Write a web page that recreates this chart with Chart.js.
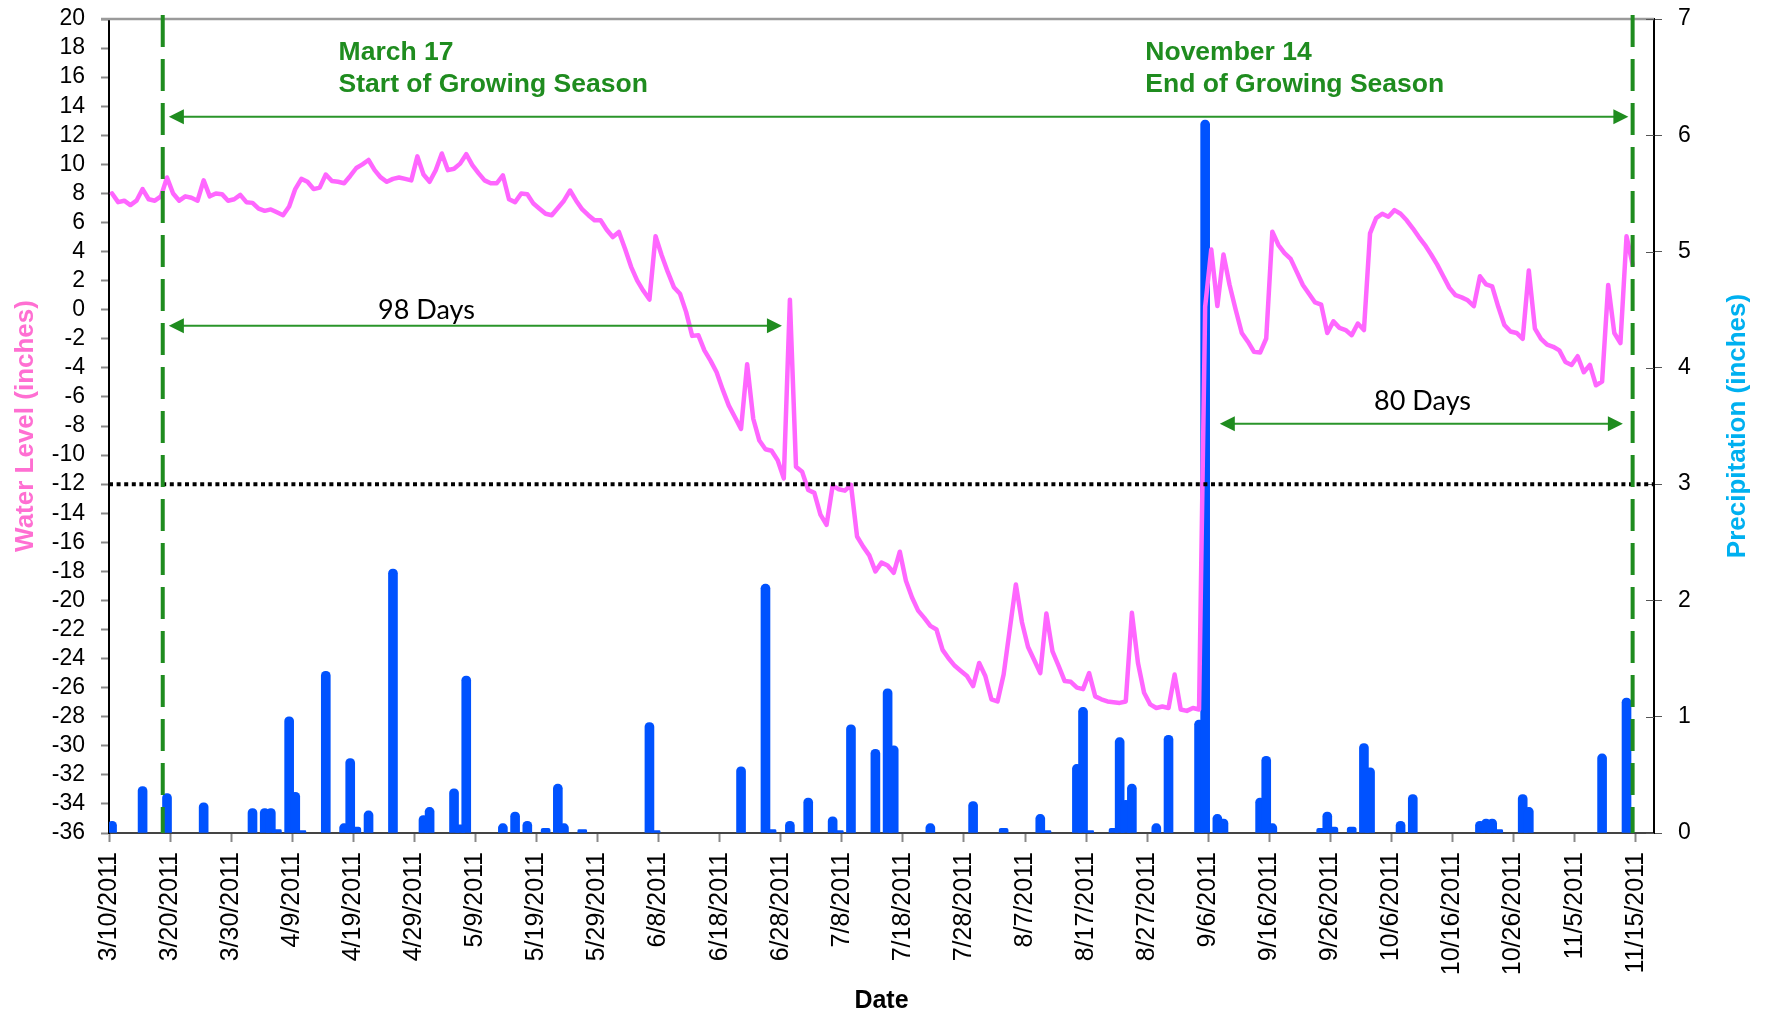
<!DOCTYPE html>
<html>
<head>
<meta charset="utf-8">
<script src="https://cdn.jsdelivr.net/npm/chart.js@4.4.1/dist/chart.umd.min.js"></script>
<style>
html,body{margin:0;padding:0;background:#fff;}
canvas{display:block;}
</style>
</head>
<body>
<canvas id="c" width="1767" height="1016"></canvas>
<script>
// ---------------- DATA ----------------
const startDate = '3/10/2011';
const axisEndDate = '11/18/2011';

const tickLabels = ['3/10/2011','3/20/2011','3/30/2011','4/9/2011','4/19/2011','4/29/2011','5/9/2011',
  '5/19/2011','5/29/2011','6/8/2011','6/18/2011','6/28/2011','7/8/2011','7/18/2011','7/28/2011',
  '8/7/2011','8/17/2011','8/27/2011','9/6/2011','9/16/2011','9/26/2011','10/6/2011','10/16/2011',
  '10/26/2011','11/5/2011','11/15/2011'];

const leftTicks = [-36,-34,-32,-30,-28,-26,-24,-22,-20,-18,-16,-14,-12,-10,-8,-6,-4,-2,0,2,4,6,8,10,12,14,16,18,20];
const rightTicks = [0,1,2,3,4,5,6,7];

// daily water level (inches), starting 3/10/2011
const waterLevel = [
  8.0, 7.4, 7.5, 7.2, 7.5, 8.3, 7.6, 7.5, 7.8, 9.1,
  8.0, 7.5, 7.8, 7.7, 7.5, 8.9, 7.8, 8.0, 7.95, 7.5,
  7.6, 7.9, 7.4, 7.35, 6.95, 6.8, 6.9, 6.7, 6.5, 7.1,
  8.3, 9.0, 8.8, 8.3, 8.4, 9.3, 8.85, 8.8, 8.7, 9.2,
  9.75, 10.0, 10.3, 9.6, 9.1, 8.8, 9.0, 9.1, 9.0, 8.9,
  10.55, 9.3, 8.8, 9.6, 10.75, 9.6, 9.7, 10.05, 10.7, 9.95,
  9.4, 8.9, 8.7, 8.7, 9.25, 7.6, 7.4, 8.0, 7.95, 7.3,
  6.95, 6.6, 6.5, 7.0, 7.5, 8.2, 7.5, 6.9, 6.5, 6.15,
  6.15, 5.5, 5.0, 5.35, 4.2, 2.95, 2.0, 1.3, 0.7, 5.05,
  3.75, 2.6, 1.55, 1.1, -0.15, -1.8, -1.75, -2.8, -3.5, -4.3,
  -5.5, -6.6, -7.4, -8.2, -3.75, -7.5, -9.0, -9.6, -9.7, -10.35,
  -11.6, 0.69, -10.8, -11.15, -12.4, -12.6, -14.1, -14.8, -12.1, -12.35,
  -12.45, -12.05, -15.6, -16.3, -16.9, -18.0, -17.4, -17.6, -18.1, -16.65,
  -18.65, -19.8, -20.7, -21.2, -21.75, -22.0, -23.4, -24.0, -24.5, -24.85,
  -25.2, -25.9, -24.3, -25.2, -26.8, -26.95, -25.1, -22.0, -18.9, -21.5,
  -23.2, -24.1, -25.0, -20.9, -23.5, -24.5, -25.55, -25.6, -26.0, -26.1,
  -25.0, -26.6, -26.8, -26.95, -27.0, -27.05, -26.95, -20.85, -24.3, -26.35,
  -27.15, -27.4, -27.3, -27.4, -25.1, -27.5, -27.6, -27.4, -27.5, 0.2,
  4.15, 0.25, 3.8, 1.7, 0.0, -1.6, -2.2, -2.9, -2.95, -1.98,
  5.37, 4.45, 3.9, 3.5, 2.6, 1.7, 1.1, 0.5, 0.35, -1.6,
  -0.8, -1.25, -1.4, -1.75, -0.95, -1.4, 5.25, 6.3, 6.6, 6.4,
  6.85, 6.6, 6.15, 5.6, 5.0, 4.45, 3.8, 3.1, 2.3, 1.5,
  1.0, 0.85, 0.65, 0.25, 2.3, 1.75, 1.6, 0.2, -1.05, -1.5,
  -1.6, -2.0, 2.7, -1.3, -2.0, -2.4, -2.55, -2.8, -3.6, -3.8,
  -3.2, -4.3, -3.8, -5.2, -4.95, 1.7, -1.6, -2.3, 5.05, 3.1
];

// daily precipitation (inches)
const precipDates = ['3/10/2011','3/15/2011','3/19/2011','3/25/2011','4/2/2011','4/4/2011','4/5/2011','4/6/2011',
  '4/8/2011','4/9/2011','4/10/2011','4/14/2011','4/17/2011','4/18/2011','4/19/2011','4/21/2011','4/25/2011',
  '4/30/2011','5/1/2011','5/5/2011','5/6/2011','5/7/2011','5/13/2011','5/15/2011','5/17/2011','5/20/2011',
  '5/22/2011','5/23/2011','5/26/2011','6/6/2011','6/7/2011','6/21/2011','6/25/2011','6/26/2011','6/29/2011',
  '7/2/2011','7/6/2011','7/7/2011','7/9/2011','7/13/2011','7/15/2011','7/16/2011','7/22/2011','7/29/2011',
  '8/3/2011','8/9/2011','8/10/2011','8/15/2011','8/16/2011','8/17/2011','8/21/2011','8/22/2011','8/23/2011',
  '8/24/2011','8/28/2011','8/30/2011','9/4/2011','9/5/2011','9/7/2011','9/8/2011','9/14/2011','9/15/2011',
  '9/16/2011','9/24/2011','9/25/2011','9/26/2011','9/29/2011','10/1/2011','10/2/2011','10/7/2011','10/9/2011',
  '10/20/2011','10/21/2011','10/22/2011','10/23/2011','10/27/2011','10/28/2011','11/9/2011','11/13/2011'];
const precipValues = [0.10,0.40,0.34,0.26,0.21,0.21,0.21,0.03,
  1.00,0.35,0.02,1.39,0.08,0.64,0.05,0.19,2.27,
  0.15,0.22,0.38,0.07,1.35,0.08,0.18,0.10,0.04,
  0.42,0.08,0.03,0.95,0.02,0.57,2.14,0.03,0.10,
  0.30,0.14,0.02,0.93,0.72,1.24,0.75,0.08,0.27,
  0.04,0.16,0.02,0.59,1.08,0.02,0.04,0.82,0.28,
  0.42,0.08,0.84,0.97,6.13,0.16,0.12,0.30,0.66,
  0.08,0.04,0.18,0.05,0.05,0.77,0.56,0.10,0.33,
  0.10,0.12,0.12,0.03,0.33,0.22,0.68,1.16];

// ---------------- HELPERS ----------------
function dayOf(s) {
  const p = s.split('/').map(Number);
  const q = startDate.split('/').map(Number);
  return Math.round((Date.UTC(p[2], p[0]-1, p[1]) - Date.UTC(q[2], q[0]-1, q[1])) / 86400000);
}
const tickDays = tickLabels.map(dayOf);
const axisMax = dayOf(axisEndDate);
const waterPoints = waterLevel.map((v, i) => ({x: i + 0.5, y: v}));
const precipPoints = precipDates.map((d, i) => ({x: dayOf(d) + 0.5, y: precipValues[i]}));

const FONT = "'Liberation Sans', Arial, Helvetica, sans-serif";
const GREEN = '#1F8C1F';
Chart.defaults.font.family = FONT;

function noPad(s) { s.paddingTop = 0; s.paddingBottom = 0; }

// ---------------- ANNOTATIONS ----------------
const annot = {
  id: 'annot',
  afterDatasetsDraw(chart) {
    const {ctx, chartArea: a, scales} = chart;
    const x = scales.x, y = scales.y, y1 = scales.y1;
    ctx.save();
    // top border
    ctx.strokeStyle = '#9a9a9a'; ctx.lineWidth = 2.5;
    ctx.beginPath(); ctx.moveTo(a.left - 8, a.top); ctx.lineTo(a.right, a.top); ctx.stroke();
    // inner right ticks
    ctx.strokeStyle = '#555'; ctx.lineWidth = 1;
    rightTicks.forEach(v => {
      const py = Math.round(y1.getPixelForValue(v)) + 0.5;
      ctx.beginPath(); ctx.moveTo(a.right - 8, py); ctx.lineTo(a.right, py); ctx.stroke();
    });
    // dotted threshold line at -12
    ctx.strokeStyle = '#000'; ctx.lineWidth = 4; ctx.setLineDash([4, 3.6]);
    const ty = y.getPixelForValue(-12);
    ctx.beginPath(); ctx.moveTo(a.left, ty); ctx.lineTo(a.right, ty); ctx.stroke();
    // dashed season lines
    ctx.strokeStyle = GREEN; ctx.lineWidth = 4; ctx.setLineDash([32, 12]);
    [8.8, 249.5].forEach(d => {
      const px = x.getPixelForValue(d);
      ctx.beginPath(); ctx.moveTo(px, a.top - 4); ctx.lineTo(px, a.bottom); ctx.stroke();
    });
    ctx.setLineDash([]);
    // arrows
    function arrow(d1, d2, v) {
      const p1 = x.getPixelForValue(d1), p2 = x.getPixelForValue(d2), py = y.getPixelForValue(v);
      const L = 15, H = 7.5;
      ctx.strokeStyle = '#2A952A'; ctx.fillStyle = GREEN; ctx.lineWidth = 2;
      ctx.beginPath(); ctx.moveTo(p1 + L - 2, py); ctx.lineTo(p2 - L + 2, py); ctx.stroke();
      ctx.beginPath(); ctx.moveTo(p1, py); ctx.lineTo(p1 + L, py - H); ctx.lineTo(p1 + L, py + H); ctx.closePath(); ctx.fill();
      ctx.beginPath(); ctx.moveTo(p2, py); ctx.lineTo(p2 - L, py - H); ctx.lineTo(p2 - L, py + H); ctx.closePath(); ctx.fill();
    }
    arrow(9.8, 248.8, 13.27);
    arrow(9.8, 110.2, -1.1);
    arrow(181.9, 247.9, -7.84);
    // texts
    ctx.fillStyle = GREEN; ctx.textAlign = 'left'; ctx.textBaseline = 'alphabetic';
    ctx.font = "bold 26.5px " + FONT;
    ctx.fillText('March 17', x.getPixelForValue(37.6), y.getPixelForValue(17.15));
    ctx.fillText('Start of Growing Season', x.getPixelForValue(37.6), y.getPixelForValue(15.0));
    ctx.fillText('November 14', x.getPixelForValue(169.7), y.getPixelForValue(17.15));
    ctx.fillText('End of Growing Season', x.getPixelForValue(169.7), y.getPixelForValue(15.0));
    ctx.fillStyle = '#000'; ctx.textAlign = 'center';
    ctx.font = "27px Lato, 'Open Sans', sans-serif";
    ctx.fillText('98 Days', x.getPixelForValue(52.0), y.getPixelForValue(-0.63));
    ctx.fillText('80 Days', x.getPixelForValue(215.1), y.getPixelForValue(-6.9));
    // right axis title (reads bottom-to-top)
    ctx.save();
    ctx.translate(1738, (a.top + a.bottom) / 2);
    ctx.rotate(-Math.PI / 2);
    ctx.fillStyle = '#00B0F0'; ctx.font = "bold 26px " + FONT;
    ctx.textAlign = 'center'; ctx.textBaseline = 'middle';
    ctx.fillText('Precipitation (inches)', 0, 0);
    ctx.restore();
    ctx.restore();
  }
};

// ---------------- CHART ----------------
new Chart(document.getElementById('c'), {
  type: 'bar',
  data: {
    datasets: [
      {
        type: 'line', label: 'Water Level', data: waterPoints, yAxisID: 'y', xAxisID: 'x',
        borderColor: '#FF66FF', borderWidth: 4.5, pointRadius: 0, tension: 0,
        borderJoinStyle: 'round', borderCapStyle: 'round', fill: false, order: 0
      },
      {
        type: 'bar', label: 'Precipitation', data: precipPoints, yAxisID: 'y1', xAxisID: 'x',
        backgroundColor: '#0052FF', barThickness: 9,
        borderRadius: {topLeft: 4.5, topRight: 4.5, bottomLeft: 0, bottomRight: 0},
        borderSkipped: 'start', order: 1
      }
    ]
  },
  options: {
    responsive: false, animation: false, devicePixelRatio: 1,
    layout: {padding: {top: 19, left: 0, right: 0, bottom: 0}},
    plugins: {legend: {display: false}, tooltip: {enabled: false}},
    scales: {
      x: {
        type: 'linear', position: 'bottom', min: 0, max: axisMax, offset: false,
        afterBuildTicks: s => { s.ticks = tickDays.map(v => ({value: v})); },
        afterFit: s => { s.height = 183; s.paddingLeft = 0; s.paddingRight = 0; },
        ticks: {
          autoSkip: false, maxRotation: 90, minRotation: 90, padding: 10, color: '#000',
          font: {size: 25},
          callback: (v, i) => tickLabels[i]
        },
        grid: {drawOnChartArea: false, offset: false, tickLength: 9, color: '#888', tickWidth: 2},
        border: {color: '#444', width: 2},
        title: {display: true, text: 'Date', color: '#000', font: {size: 25, weight: 'bold'}, padding: {top: 0, bottom: 0}}
      },
      y: {
        type: 'linear', position: 'left', min: -36, max: 20,
        afterBuildTicks: s => { s.ticks = leftTicks.map(v => ({value: v})); },
        afterFit: s => { s.width = 109; noPad(s); },
        ticks: {autoSkip: false, color: '#000', font: {size: 23}, padding: 16},
        grid: {drawOnChartArea: false, tickLength: 8, color: '#888', tickWidth: 2},
        border: {color: '#000', width: 2},
        title: {display: true, text: 'Water Level (inches)', color: '#FF6FD2', font: {size: 26, weight: 'bold'}, padding: {top: 10}}
      },
      y1: {
        type: 'linear', position: 'right', min: 0, max: 7,
        afterBuildTicks: s => { s.ticks = rightTicks.map(v => ({value: v})); },
        afterFit: s => { s.width = 113; noPad(s); },
        ticks: {autoSkip: false, color: '#000', font: {size: 23}, padding: 16},
        grid: {drawOnChartArea: false, tickLength: 8, color: '#555', tickWidth: 1},
        border: {color: '#000', width: 2}
      }
    }
  },
  plugins: [annot]
});
</script>
</body>
</html>
